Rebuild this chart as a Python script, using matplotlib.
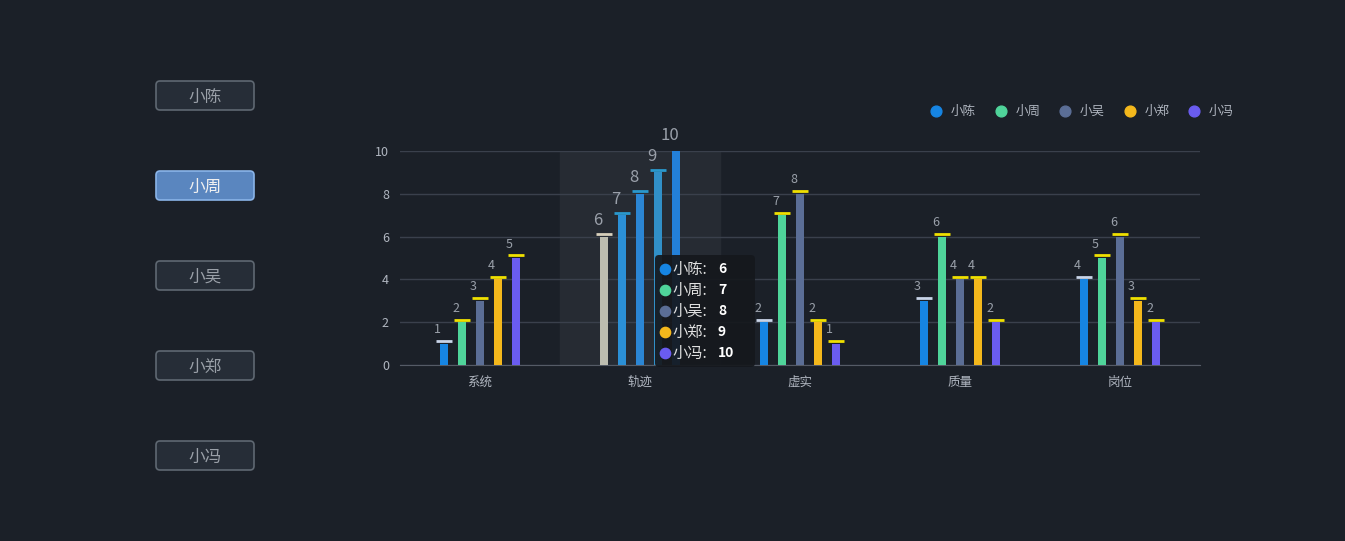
import numpy as np
import matplotlib.pyplot as plt
from matplotlib.patches import FancyBboxPatch

plt.rcParams['font.family'] = ['Noto Sans CJK SC', 'DejaVu Sans']

categories = ["系统", "轨迹", "虚实", "质量", "岗位"]
names = ["小陈", "小周", "小吴", "小郑", "小冯"]
xiaochen = [1, 6, 2, 3, 4]
xiaozhou = [2, 7, 7, 6, 5]
xiaowu = [3, 8, 8, 4, 6]
xiaozheng = [4, 9, 2, 4, 3]
xiaofeng = [5, 10, 1, 2, 2]
series = [xiaochen, xiaozhou, xiaowu, xiaozheng, xiaofeng]
colors = ["#1685e3", "#4fd49a", "#5b6e96", "#f4b81c", "#6a5cf0"]
caps = ["#c8d4e8", "#f0e000", "#f0e000", "#f0e000", "#f0e000"]
hover = 1
hover_colors = ["#bdbdb0", "#2b90d6", "#2b86d4", "#3190c8", "#2380d9"]
hover_caps = ["#d8d0bc", "#2a98cc", "#2a98cc", "#2a98cc", "#2aa0d8"]

bg = "#1b2028"
fig = plt.figure(figsize=(13.45, 5.41), dpi=100, facecolor=bg)
ax = fig.add_axes([400/1345, 176/541, 800/1345, 214/541], facecolor=bg)
ov = fig.add_axes([0, 0, 1, 1], facecolor="none")
ov.set_xlim(0, 1345)
ov.set_ylim(541, 0)
ov.axis("off")

x = np.arange(len(categories))
ax.axvspan(hover - 0.5, hover + 0.5, color="#262b33", zorder=0)
for i, vals in enumerate(series):
    off = (i - 2) * 0.1125
    for j, v in enumerate(vals):
        c = hover_colors[i] if j == hover else colors[i]
        cc = hover_caps[i] if j == hover else caps[i]
        ax.bar(x[j] + off, v, width=0.05, color=c, zorder=3)
        ax.plot([x[j] + off - 0.05, x[j] + off + 0.05], [v + 0.12, v + 0.12],
                color=cc, lw=2, zorder=4, solid_capstyle="butt")
        ax.text(x[j] + off - 0.04, v + 0.35, str(v), ha="center", va="bottom",
                color="#9aa0aa", fontsize=12 if j == hover else 9, zorder=5)

ax.set_xlim(-0.5, 4.5)
ax.set_ylim(0, 10)
ax.set_yticks([0, 2, 4, 6, 8, 10])
ax.grid(axis="y", color="#3a404c", lw=1)
ax.set_axisbelow(True)
ax.set_xticks(x)
ax.set_xticklabels(categories)
ax.tick_params(colors="#b0b6c0", labelsize=9, length=0, pad=8)
for s in ["top", "right", "left"]:
    ax.spines[s].set_visible(False)
ax.spines["bottom"].set_color("#555b66")

# legend
for i, n in enumerate(names):
    lx = 936 + i * 64.5
    ov.scatter([lx], [111], s=60, color=colors[i], zorder=5)
    ov.text(lx + 15, 111, n, color="#b0b6c0", fontsize=9, va="center")

# tooltip
tip = FancyBboxPatch((655, 255), 100, 112, boxstyle="round,pad=0,rounding_size=4",
                     fc="#15181d", ec="none", alpha=0.92, zorder=10)
ov.add_patch(tip)
for i, n in enumerate(names):
    ty = 269 + i * 21
    ov.scatter([665], [ty], s=55, color=colors[i], zorder=11)
    ov.text(672, ty, n + ":", color="#e0e0e0", fontsize=11, va="center", zorder=12)
    ov.text(718, ty, str(series[i][hover]), color="#ffffff", fontsize=10,
            fontweight="bold", va="center", zorder=12)

# side buttons
for i, n in enumerate(names):
    by = 81 + i * 90
    sel = i == 1
    fc = "#5a86bf" if sel else "#262d37"
    ec = "#8ab4e8" if sel else "#5f6872"
    b = FancyBboxPatch((156, by), 98, 29, boxstyle="round,pad=0,rounding_size=4",
                       fc=fc, ec=ec, lw=1.2)
    ov.add_patch(b)
    ov.text(205, by + 16, n, color="#f0f0f0" if sel else "#9aa0a8",
            fontsize=12, ha="center", va="center")

fig.savefig("out.png", dpi=100, facecolor=bg)
